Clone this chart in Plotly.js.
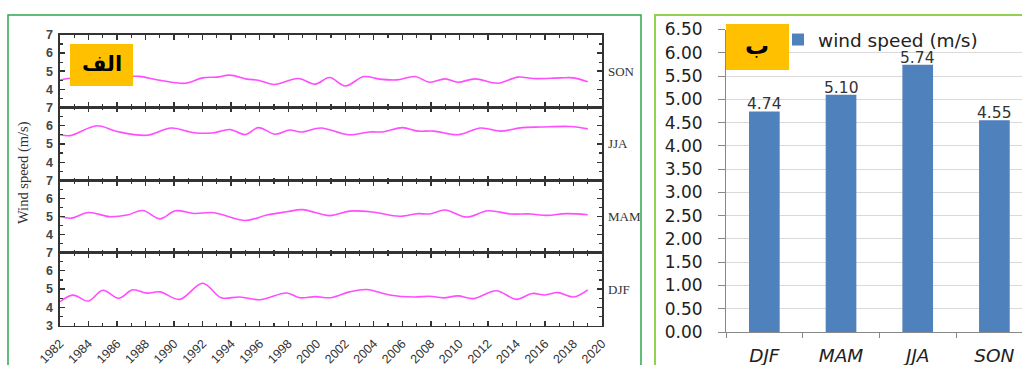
<!DOCTYPE html>
<html>
<head>
<meta charset="utf-8">
<script src="https://cdn.plot.ly/plotly-3.0.1.min.js"></script>
<style>html,body{margin:0;padding:0;background:#fff;}#chart{width:1022px;height:365px;}</style>
</head>
<body>
<div id="chart"></div>
<script>
// ---- Left panel (الف): smoothed seasonal wind speed time series ----
const sonYears = [1982.0,1982.6,1984.0,1985.5,1987.1,1987.6,1989.0,1990.8,1992.0,1993.0,1993.9,1995.1,1995.9,1997.0,1998.7,1999.9,2000.9,2002.0,2003.3,2004.4,2005.6,2006.9,2007.9,2009.0,2009.9,2011.1,2012.7,2014.1,2015.2,2017.1,2018.0,2019.0];
const sonSpeed = [4.50,4.59,4.66,4.72,4.72,4.71,4.50,4.33,4.63,4.67,4.78,4.56,4.50,4.26,4.59,4.28,4.65,4.18,4.70,4.56,4.52,4.70,4.39,4.57,4.39,4.57,4.33,4.67,4.59,4.63,4.63,4.41];

const jjaYears = [1982.0,1982.7,1984.6,1986.0,1988.1,1989.8,1991.4,1992.8,1993.9,1995.0,1995.9,1997.1,1998.1,1998.9,2000.3,2002.2,2003.7,2004.7,2006.0,2007.1,2008.2,2009.9,2011.5,2012.9,2014.4,2015.7,2017.8,2019.0];
const jjaSpeed = [5.50,5.45,5.99,5.68,5.47,5.87,5.61,5.61,5.79,5.51,5.89,5.53,5.76,5.65,5.87,5.50,5.65,5.66,5.89,5.70,5.70,5.50,5.87,5.70,5.89,5.92,5.95,5.82];

const mamYears = [1982.0,1982.8,1984.0,1985.5,1986.7,1987.8,1989.0,1990.1,1991.4,1992.8,1995.0,1996.5,1997.9,1999.0,2000.9,2002.3,2003.9,2005.8,2007.1,2007.9,2009.0,2010.5,2012.0,2013.6,2015.0,2016.1,2017.5,2019.0];
const mamSpeed = [5.00,4.91,5.22,4.99,5.08,5.33,4.87,5.32,5.17,5.21,4.78,5.08,5.26,5.38,5.05,5.30,5.25,5.01,5.16,5.14,5.36,4.97,5.32,5.14,5.14,5.06,5.16,5.10];

const djfYears = [1982.0,1982.9,1984.0,1985.0,1986.1,1987.1,1988.1,1989.0,1990.4,1992.0,1993.3,1994.6,1996.0,1997.9,1998.8,1999.9,2001.0,2002.3,2003.5,2005.1,2006.8,2007.9,2008.9,2009.9,2011.0,2012.6,2014.0,2015.1,2016.0,2016.9,2018.0,2019.0];
const djfSpeed = [4.31,4.67,4.35,4.94,4.50,4.96,4.78,4.85,4.44,5.32,4.53,4.57,4.42,4.79,4.53,4.59,4.53,4.85,4.98,4.68,4.57,4.61,4.52,4.63,4.48,4.91,4.44,4.76,4.68,4.81,4.57,4.96];

const panelSeasons = ["SON","JJA","MAM","DJF"];
const yearTicks = [1982,1984,1986,1988,1990,1992,1994,1996,1998,2000,2002,2004,2006,2008,2010,2012,2014,2016,2018,2020];
const yTitle = "Wind speed (m/s)";
const leftTag = "الف";

// ---- Right panel (ب): mean seasonal wind speed ----
const seasons = ["DJF","MAM","JJA","SON"];
const meanSpeed = [4.74, 5.10, 5.74, 4.55];
const barName = "wind speed (m/s)";
const rightTag = "ب";

// ---- layout helpers ----
const W = 1022, H = 365;
const px = v => v / W;
const py = v => 1 - v / H;

const lineColor = "#ff4dff";
const frame = "#333";
const xL = px(60), xR = px(602);
const panelTop = [35, 107.3, 180.5, 252.5, 325.7];

const seriesX = [sonYears, jjaYears, mamYears, djfYears];
const seriesY = [sonSpeed, jjaSpeed, mamSpeed, djfSpeed];

const traces = [];
const layout = {
  width: W, height: H,
  margin: {l: 0, r: 0, t: 0, b: 0},
  paper_bgcolor: "#fff",
  plot_bgcolor: "rgba(0,0,0,0)",
  showlegend: true,
  legend: {
    x: px(778), y: py(21), xanchor: "left", yanchor: "top",
    bgcolor: "rgba(0,0,0,0)",
    font: {family: "DejaVu Sans", size: 18.5, color: "#222"},
    itemwidth: 30
  },
  shapes: [],
  annotations: []
};

// Panels: index 0 = SON (top) ... 3 = DJF (bottom); DJF uses x/y
const axisIds = [4, 3, 2, 1];
for (let i = 0; i < 4; i++) {
  const n = axisIds[i];
  const xa = n === 1 ? "x" : "x" + n;
  const ya = n === 1 ? "y" : "y" + n;
  traces.push({
    type: "scatter", mode: "lines",
    x: seriesX[i], y: seriesY[i],
    xaxis: xa, yaxis: ya,
    line: {color: lineColor, width: 1.6, shape: "spline", smoothing: 1},
    showlegend: false, hoverinfo: "skip"
  });
  const xKey = n === 1 ? "xaxis" : "xaxis" + n;
  const yKey = n === 1 ? "yaxis" : "yaxis" + n;
  layout[xKey] = {
    domain: [xL, xR], anchor: ya, range: [1982, 2020],
    tickvals: yearTicks, ticktext: yearTicks.map(String),
    ticks: "inside", ticklen: 5, tickwidth: 1.4, tickcolor: frame,
    showline: true, linecolor: frame, linewidth: 1.6, mirror: "allticks",
    showgrid: false, zeroline: false,
    tickangle: -45,
    showticklabels: n === 1,
    ticklabelstandoff: 4,
    tickfont: {family: "Liberation Sans, Arial", size: 12.5, color: "#333"},
    minor: {dtick: 1, tick0: 1982, ticks: "inside", ticklen: 3, tickwidth: 1.2, tickcolor: frame, showgrid: false}
  };
  if (n !== 1) layout[xKey].matches = "x";
  layout[yKey] = {
    domain: [py(panelTop[i + 1]), py(panelTop[i])], anchor: xa,
    range: [3, 7],
    tickvals: n === 1 ? [3, 4, 5, 6, 7] : [4, 5, 6, 7],
    ticks: "inside", ticklen: 5, tickwidth: 1.4, tickcolor: frame,
    showline: true, linecolor: frame, linewidth: 1.6, mirror: "allticks",
    showgrid: false, zeroline: false,
    ticklabelstandoff: 3,
    tickfont: {family: "Liberation Sans, Arial", size: 12.5, color: "#444", weight: "bold"},
    minor: {dtick: 0.5, tick0: 3, ticks: "inside", ticklen: 3, tickwidth: 1.2, tickcolor: frame, showgrid: false}
  };
  layout.annotations.push({
    xref: "paper", yref: ya, x: px(606), y: 5, xanchor: "left", yanchor: "middle",
    text: panelSeasons[i], showarrow: false,
    font: {family: "Liberation Serif, Times New Roman", size: 13, color: "#333"}
  });
}

// Y title of left chart
layout.annotations.push({
  xref: "paper", yref: "paper", x: px(24), y: py(173), xanchor: "center", yanchor: "middle",
  text: yTitle, textangle: -90, showarrow: false,
  font: {family: "Liberation Serif, Times New Roman", size: 14.5, color: "#333"}
});

// Right bar chart
traces.push({
  type: "bar", x: seasons, y: meanSpeed, xaxis: "x5", yaxis: "y5",
  name: barName, width: 0.4,
  marker: {color: "#4f81bd"},
  hoverinfo: "skip"
});
seasons.forEach((s, i) => {
  layout.annotations.push({
    xref: "x5", yref: "y5", x: s, y: meanSpeed[i],
    xanchor: "center", yanchor: "bottom", yshift: -4,
    text: meanSpeed[i].toFixed(2), showarrow: false,
    font: {family: "DejaVu Sans", size: 15.5, color: "#333"}
  });
});
layout.xaxis5 = {
  domain: [px(726), 1], anchor: "y5", type: "category",
  range: [-0.5, 3.36],
  tickson: "boundaries", ticks: "outside", ticklen: 5, tickcolor: "#888",
  showline: true, linecolor: "#888", linewidth: 1,
  showgrid: false, zeroline: false,
  ticklabelstandoff: 7,
  tickfont: {family: "DejaVu Sans", size: 18.5, color: "#222", style: "italic"}
};
layout.yaxis5 = {
  domain: [py(332), py(29.5)], anchor: "x5",
  range: [0, 6.5], dtick: 0.5, tick0: 0, tickformat: ".2f",
  showgrid: true, gridcolor: "#d9d9d9", gridwidth: 1,
  ticks: "outside", ticklen: 7, tickcolor: "#888",
  showline: true, linecolor: "#888", linewidth: 1,
  zeroline: false,
  ticklabelstandoff: 12,
  tickfont: {family: "DejaVu Sans", size: 17, color: "#222"}
};

// Frames and tag boxes
layout.shapes.push(
  {type: "rect", xref: "paper", yref: "paper", x0: px(8), x1: px(641), y0: -0.1, y1: py(15),
   line: {color: "#2aa84a", width: 1.5}, fillcolor: "rgba(0,0,0,0)", layer: "above"},
  {type: "rect", xref: "paper", yref: "paper", x0: px(655), x1: 1.1, y0: -0.1, y1: py(15),
   line: {color: "#92d050", width: 2}, fillcolor: "rgba(0,0,0,0)", layer: "above"},
  {type: "rect", xref: "paper", yref: "paper", x0: px(70), x1: px(133), y0: py(86), y1: py(44),
   line: {width: 0}, fillcolor: "#ffc000", layer: "above"},
  {type: "rect", xref: "paper", yref: "paper", x0: px(726), x1: px(789), y0: py(70), y1: py(24),
   line: {width: 0}, fillcolor: "#ffc000", layer: "above"}
);
layout.annotations.push(
  {xref: "paper", yref: "paper", x: px(102), y: py(64), xanchor: "center", yanchor: "middle",
   text: "<b>" + leftTag + "</b>", showarrow: false,
   font: {family: "DejaVu Sans", size: 21, color: "#000"}},
  {xref: "paper", yref: "paper", x: px(757), y: py(46), xanchor: "center", yanchor: "middle",
   text: "<b>" + rightTag + "</b>", showarrow: false,
   font: {family: "DejaVu Sans", size: 24, color: "#000"}}
);

Plotly.newPlot("chart", traces, layout, {staticPlot: true, displayModeBar: false});
</script>
</body>
</html>
